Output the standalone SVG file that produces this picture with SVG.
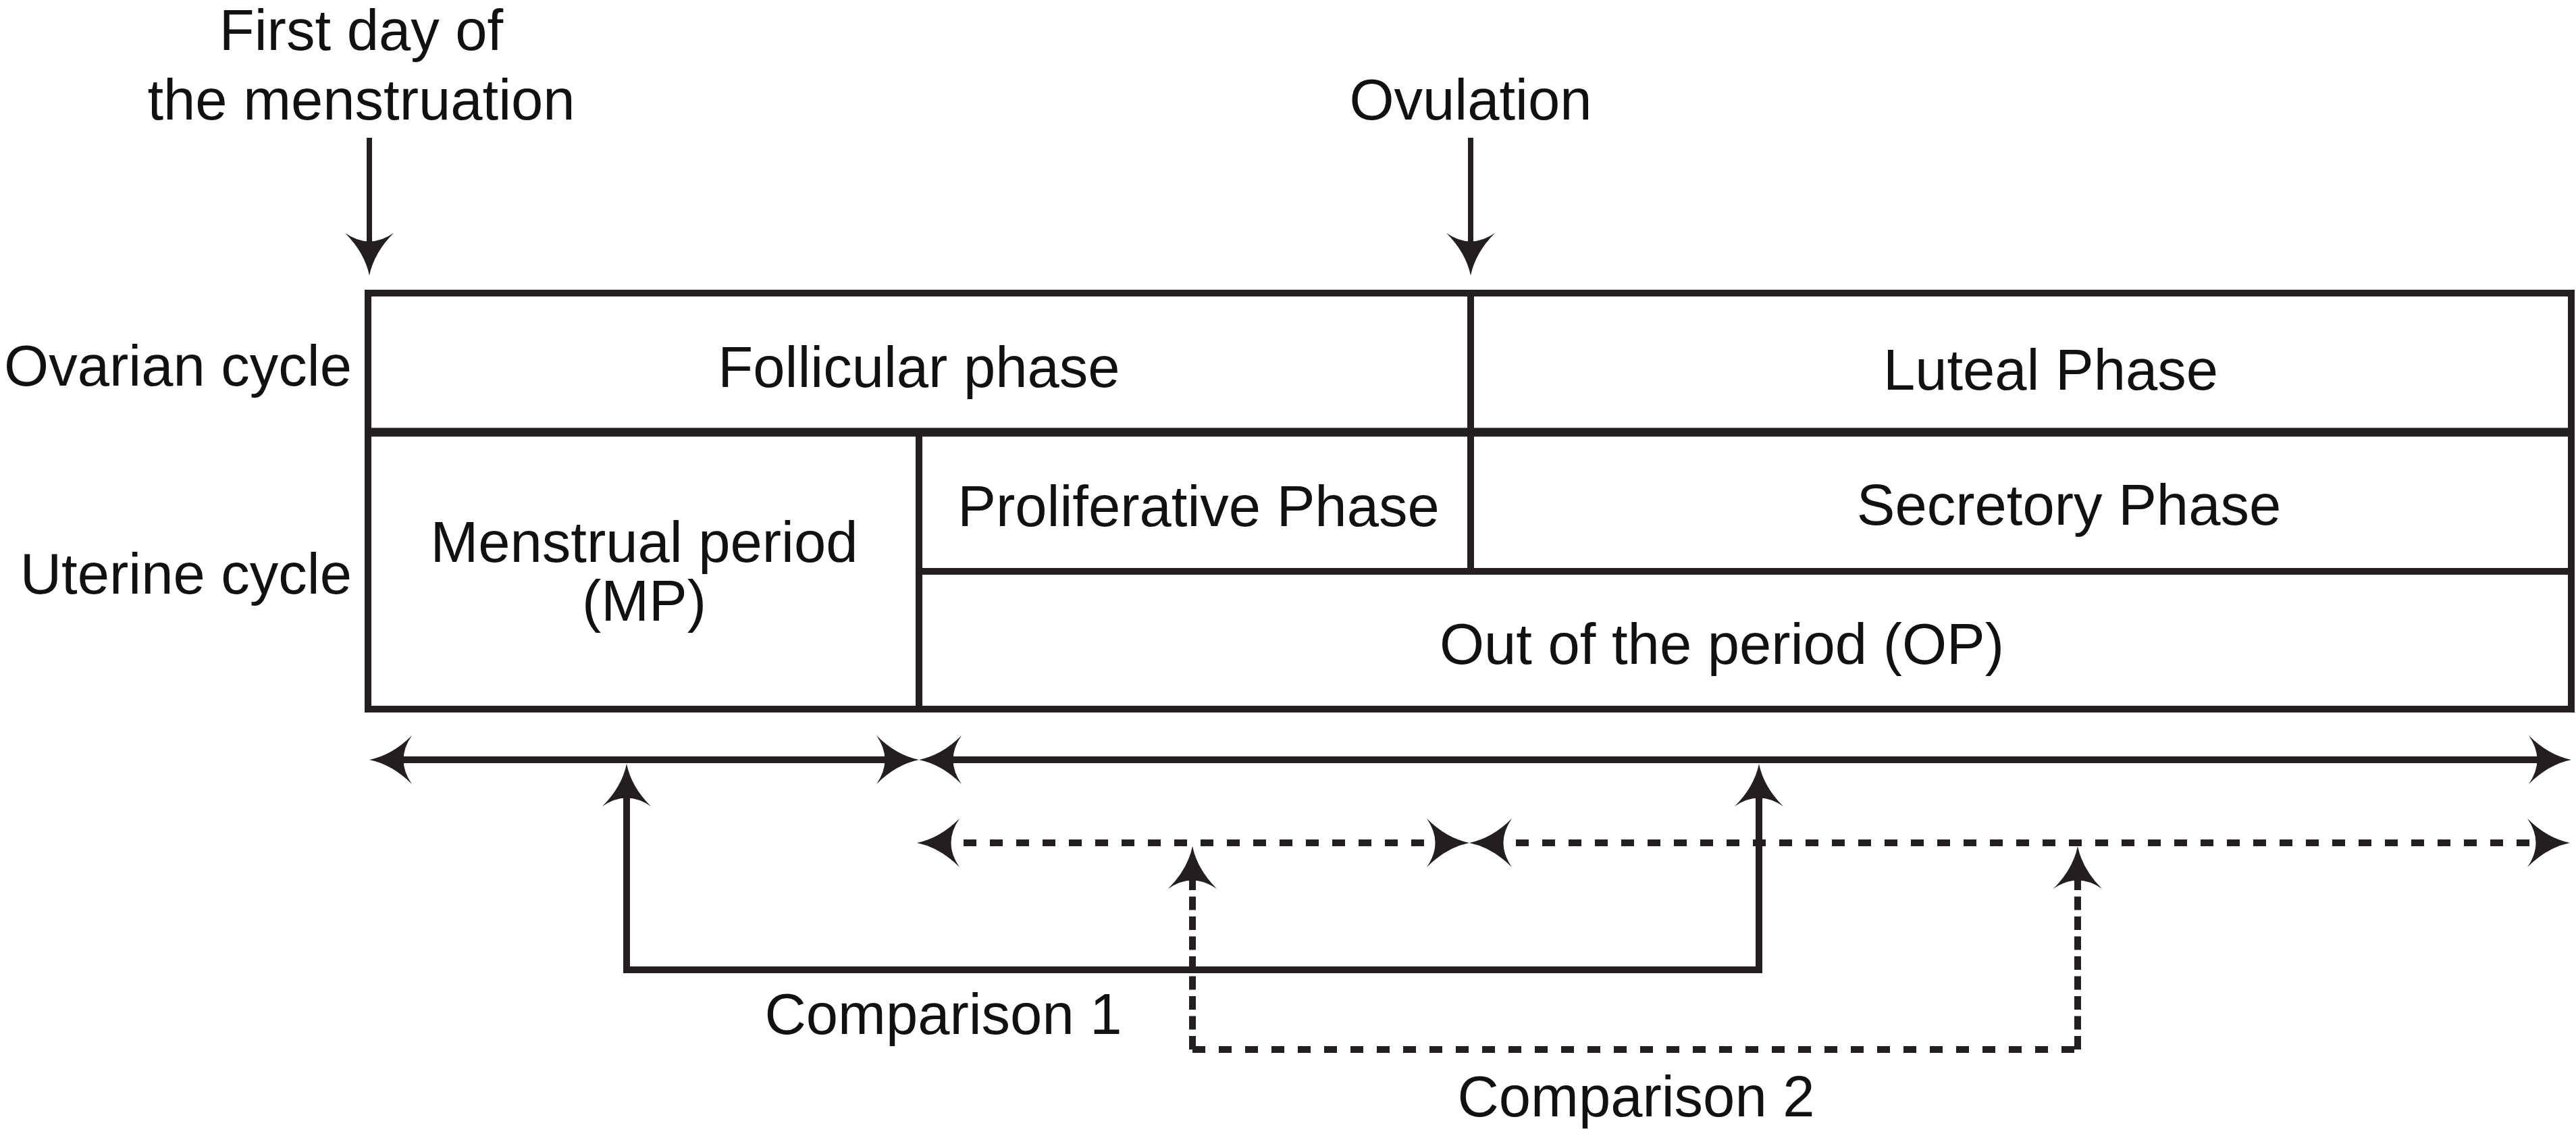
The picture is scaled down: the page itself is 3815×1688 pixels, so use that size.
<svg xmlns="http://www.w3.org/2000/svg" width="3815" height="1688" viewBox="0 0 3815 1688">
  <style>
    text { font-family: "Liberation Sans", Arial, sans-serif; font-size: 85px; fill: #111; }
    .mid { text-anchor: middle; }
    .end { text-anchor: end; }
    .border { fill: none; stroke: #231f20; stroke-width: 10; }
    .div { stroke: #231f20; stroke-width: 10; }
    .thick { stroke-width: 13; }
    .conn { fill: none; stroke: #231f20; stroke-width: 10; }
    .dotted { stroke-dasharray: 19 20; }
    .dashed { stroke-dasharray: 20 9.5; }
  </style>
  <defs>
    <marker id="head" markerUnits="userSpaceOnUse" viewBox="-70 -40 80 80" markerWidth="80" markerHeight="80" refX="-30" refY="0" orient="auto-start-reverse" overflow="visible">
      <path d="M0,0 Q-34,-7 -63,-36 Q-38,0 -63,36 Q-34,7 0,0 Z" fill="#231f20"/>
    </marker>
  </defs>
  <rect width="3815" height="1688" fill="#fff"/>

  <g id="label-first-day">
    <text class="mid" x="535" y="74">First day of</text>
    <text class="mid" x="535" y="177">the menstruation</text>
  </g>
  <g id="label-ovulation">
    <text class="mid" x="2178" y="177">Ovulation</text>
  </g>
  <g id="label-ovarian-cycle">
    <text class="end" x="521" y="571">Ovarian cycle</text>
  </g>
  <g id="label-uterine-cycle">
    <text class="end" x="521" y="879">Uterine cycle</text>
  </g>

  <g id="table">
    <rect class="border" x="545" y="434" width="3263" height="616"/>
    <line class="div thick" x1="545" y1="640" x2="3808" y2="640"/>
    <line class="div" x1="1361" y1="846" x2="3808" y2="846"/>
    <line class="div" x1="1361" y1="640" x2="1361" y2="1050"/>
    <line class="div" x1="2178" y1="434" x2="2178" y2="846"/>
  </g>
  <g id="cell-follicular"><text class="mid" x="1361" y="573">Follicular phase</text></g>
  <g id="cell-luteal"><text class="mid" x="3037" y="577">Luteal Phase</text></g>
  <g id="cell-menstrual">
    <text class="mid" x="954" y="832">Menstrual period</text>
    <text class="mid" x="954" y="919">(MP)</text>
  </g>
  <g id="cell-proliferative"><text class="mid" x="1775" y="779">Proliferative Phase</text></g>
  <g id="cell-secretory"><text class="mid" x="3064" y="777">Secretory Phase</text></g>
  <g id="cell-out-of-period"><text class="mid" x="2550" y="983">Out of the period (OP)</text></g>

  <g id="label-comparison-1"><text class="mid" x="1397" y="1531">Comparison 1</text></g>
  <g id="label-comparison-2"><text class="mid" x="2423" y="1653">Comparison 2</text></g>

  <g id="connectors">
    <line class="conn" style="stroke-width:8" x1="547" y1="204" x2="547" y2="378" marker-end="url(#head)"/>
    <line class="conn" style="stroke-width:8" x1="2178" y1="204" x2="2178" y2="378" marker-end="url(#head)"/>
    <line class="conn" x1="577" y1="1125" x2="1331" y2="1125" marker-start="url(#head)" marker-end="url(#head)"/>
    <line class="conn" x1="1391" y1="1125" x2="3778" y2="1125" marker-start="url(#head)" marker-end="url(#head)"/>
    <line class="conn dotted" x1="1388" y1="1248" x2="2146" y2="1248" marker-start="url(#head)" marker-end="url(#head)"/>
    <line class="conn dotted" x1="2206" y1="1248" x2="3776" y2="1248" marker-start="url(#head)" marker-end="url(#head)"/>
    <path class="conn" d="M928,1161 V1436 H2605 V1161" marker-start="url(#head)" marker-end="url(#head)"/>
    <line class="conn dashed" x1="1766" y1="1554" x2="1766" y2="1283" marker-end="url(#head)"/>
    <line class="conn dotted" x1="1766" y1="1554" x2="3077" y2="1554"/>
    <line class="conn dashed" x1="3077" y1="1554" x2="3077" y2="1283" marker-end="url(#head)"/>
  </g>
</svg>
